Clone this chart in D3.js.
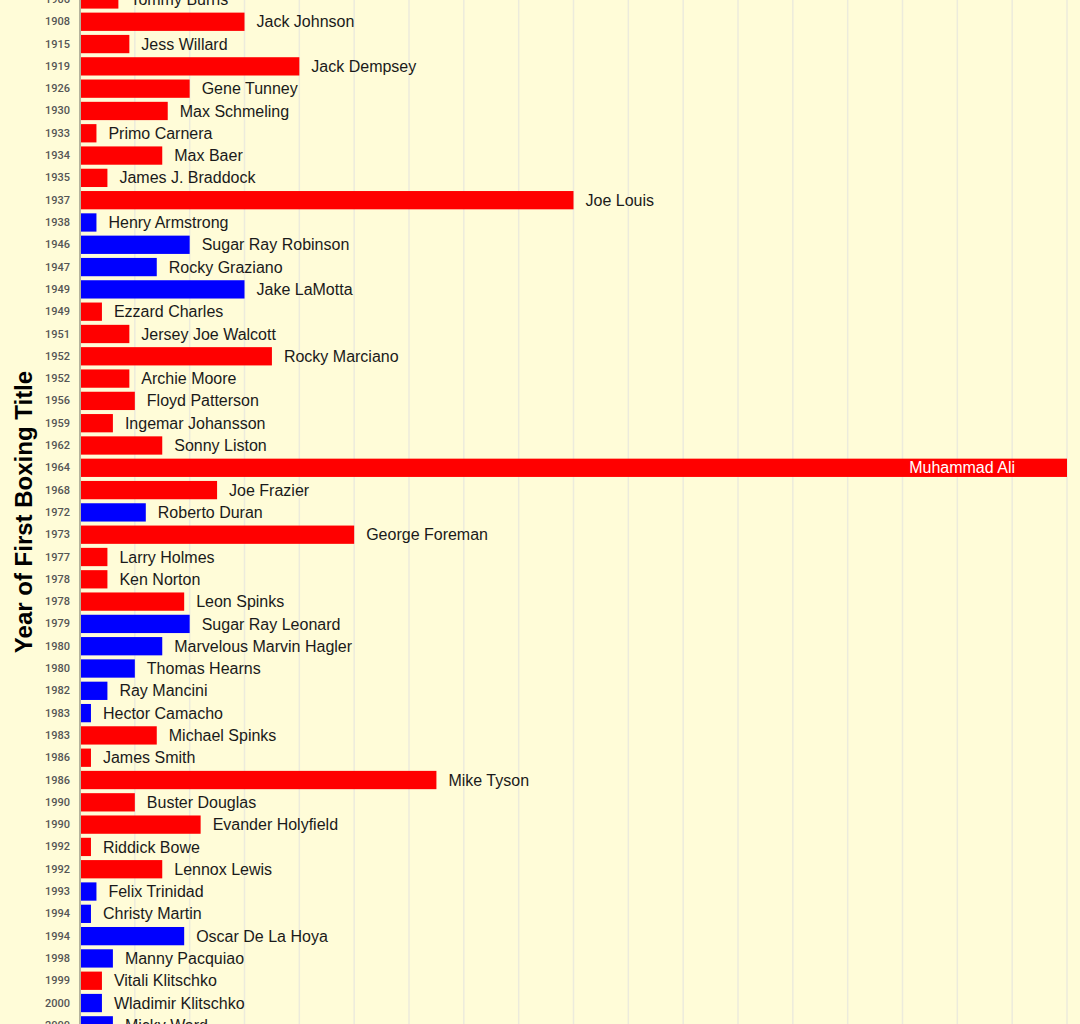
<!DOCTYPE html>
<html>
<head>
<meta charset="utf-8">
<script src="https://cdn.jsdelivr.net/npm/d3@7"></script>
<style>
  html, body { margin: 0; padding: 0; background: #fffcd8; overflow: hidden; }
</style>
</head>
<body>
<div id="chart"></div>
<script>
// Data (only the visible rows)
const years = ["1906", "1908", "1915", "1919", "1926", "1930", "1933", "1934", "1935", "1937",
  "1938", "1946", "1947", "1949", "1949", "1951", "1952", "1952", "1956", "1959",
  "1962", "1964", "1968", "1972", "1973", "1977", "1978", "1978", "1979", "1980",
  "1980", "1982", "1983", "1983", "1986", "1986", "1990", "1990", "1992", "1992",
  "1993", "1994", "1994", "1998", "1999", "2000", "2000"];

const boxers = ["Tommy Burns", "Jack Johnson", "Jess Willard", "Jack Dempsey", "Gene Tunney",
  "Max Schmeling", "Primo Carnera", "Max Baer", "James J. Braddock", "Joe Louis",
  "Henry Armstrong", "Sugar Ray Robinson", "Rocky Graziano", "Jake LaMotta", "Ezzard Charles",
  "Jersey Joe Walcott", "Rocky Marciano", "Archie Moore", "Floyd Patterson", "Ingemar Johansson",
  "Sonny Liston", "Muhammad Ali", "Joe Frazier", "Roberto Duran", "George Foreman",
  "Larry Holmes", "Ken Norton", "Leon Spinks", "Sugar Ray Leonard", "Marvelous Marvin Hagler",
  "Thomas Hearns", "Ray Mancini", "Hector Camacho", "Michael Spinks", "James Smith",
  "Mike Tyson", "Buster Douglas", "Evander Holyfield", "Riddick Bowe", "Lennox Lewis",
  "Felix Trinidad", "Christy Martin", "Oscar De La Hoya", "Manny Pacquiao", "Vitali Klitschko",
  "Wladimir Klitschko", "Micky Ward"];

const values = [7, 30, 9, 40, 20, 16, 3, 15, 5, 90,
  3, 20, 14, 30, 4, 9, 35, 9, 10, 6,
  15, 180, 25, 12, 50, 5, 5, 19, 20, 15,
  10, 5, 2, 14, 2, 65, 10, 22, 2, 15,
  3, 2, 19, 6, 4, 4, 6];

// A = red bars, B = blue bars
const groups = ["A", "A", "A", "A", "A", "A", "A", "A", "A", "A",
  "B", "B", "B", "B", "A", "A", "A", "A", "A", "A",
  "A", "A", "A", "B", "A", "A", "A", "A", "B", "B",
  "B", "B", "B", "A", "A", "A", "A", "A", "A", "A",
  "B", "B", "B", "B", "A", "B", "B"];

const gridValues = d3.range(10, 181, 10);

const drawTitleBars = () => {
  const W = 1080, H = 1024;
  const root = d3.select("#chart");
  root.selectAll("*").remove();

  const rows = boxers.map((name, i) => ({
    i, name, year: years[i], value: values[i], group: groups[i]
  }));

  const x = d3.scaleLinear()
    .domain([0, 180])
    .range([80, 1067]);

  const y = d3.scaleBand()
    .domain(rows.map(d => d.i))
    .range([-13.7, 1038.5])
    .padding(0.18);

  const color = d3.scaleOrdinal()
    .domain(["A", "B"])
    .range(["#ff0000", "#0000ff"]);

  const svg = root.append("svg")
    .attr("width", W)
    .attr("height", H)
    .style("display", "block");

  svg.append("rect")
    .attr("width", W)
    .attr("height", H)
    .attr("fill", "#fffcd8");

  // Vertical grid
  svg.append("g")
    .selectAll("line")
    .data(gridValues)
    .join("line")
    .attr("x1", d => x(d))
    .attr("x2", d => x(d))
    .attr("y1", 0)
    .attr("y2", H)
    .attr("stroke", "#ecebdc")
    .attr("stroke-width", 1.5);

  // Bars
  svg.append("g")
    .selectAll("rect")
    .data(rows)
    .join("rect")
    .attr("x", x(0))
    .attr("y", d => y(d.i))
    .attr("width", d => x(d.value) - x(0))
    .attr("height", y.bandwidth())
    .attr("fill", d => color(d.group));

  // Y axis with year labels
  const yAxis = d3.axisLeft(y)
    .tickSize(0)
    .tickPadding(10)
    .tickFormat(i => years[i]);

  const ax = svg.append("g")
    .attr("transform", `translate(${x(0)},0)`)
    .call(yAxis);

  ax.select(".domain")
    .attr("d", `M0,0V${H}`)
    .attr("stroke", "#b5b39c")
    .attr("stroke-width", 2);

  ax.selectAll("text")
    .attr("font-family", "Roboto, sans-serif")
    .attr("font-size", 11)
    .attr("font-weight", 500)
    .attr("fill", "#555");

  // Name labels
  const maxVal = d3.max(values);
  svg.append("g")
    .selectAll("text")
    .data(rows)
    .join("text")
    .attr("x", d => d.value === maxVal ? x(d.value) - 52 : x(d.value) + 12)
    .attr("y", d => y(d.i) + y.bandwidth() / 2)
    .attr("dy", "0.35em")
    .attr("text-anchor", d => d.value === maxVal ? "end" : "start")
    .attr("font-family", "'Liberation Sans', Arial, sans-serif")
    .attr("font-size", 16)
    .attr("fill", d => d.value === maxVal ? "#fff" : "#1a1a1a")
    .text(d => d.name);

  // Axis title
  svg.append("text")
    .attr("transform", `translate(32, ${H / 2}) rotate(-90)`)
    .attr("text-anchor", "middle")
    .attr("font-family", "'Liberation Sans', Arial, sans-serif")
    .attr("font-size", 24)
    .attr("font-weight", "bold")
    .attr("fill", "#000")
    .text("Year of First Boxing Title");
};

drawTitleBars();
</script>
</body>
</html>
